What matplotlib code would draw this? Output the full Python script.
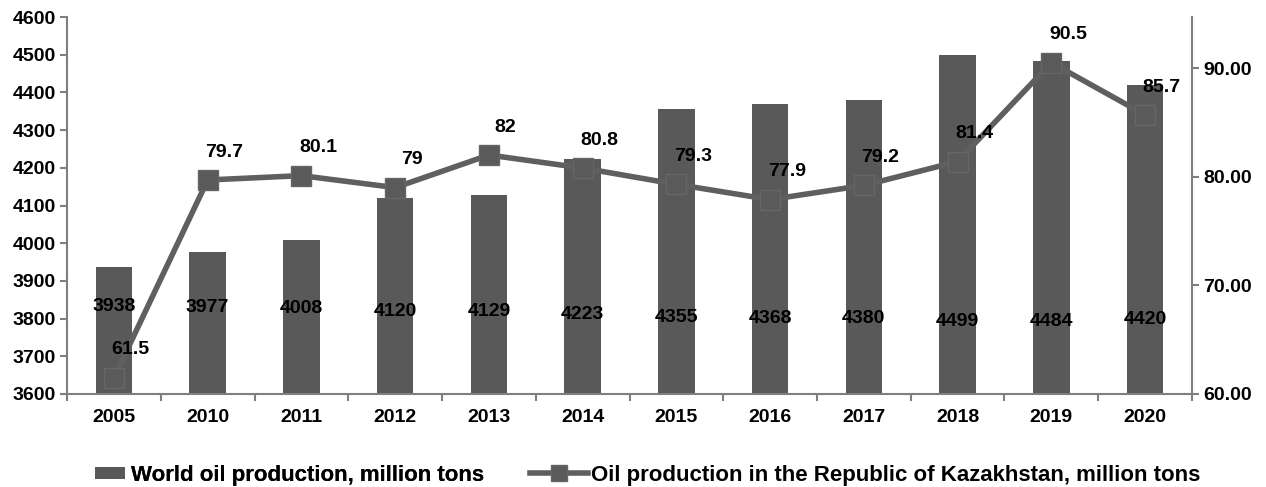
import matplotlib
matplotlib.use("Agg")
import matplotlib.pyplot as plt
import numpy as np

years = ["2005", "2010", "2011", "2012", "2013", "2014", "2015", "2016", "2017", "2018", "2019", "2020"]
world = [3938, 3977, 4008, 4120, 4129, 4223, 4355, 4368, 4380, 4499, 4484, 4420]
kaz = [61.5, 79.7, 80.1, 79, 82, 80.8, 79.3, 77.9, 79.2, 81.4, 90.5, 85.7]
left_ticks = list(range(3600, 4601, 100))
right_ticks = [60, 70, 80, 90]

plt.rcParams['font.family'] = ['Liberation Sans', 'DejaVu Sans']
bar_c = "#595959"
line_c = "#5f5f5f"
spine_c = "#7f7f7f"
fs = 14

fig = plt.figure(figsize=(12.66, 4.87), dpi=100)
ax = fig.add_axes([0.053, 0.191, 0.8885, 0.774])
x = np.arange(len(years))
bars = ax.bar(x, world, width=0.39, color=bar_c, zorder=2,
              label="World oil production, million tons")
ax.set_ylim(3600, 4600)
ax.set_xlim(-0.5, len(years) - 0.5)
ax.set_yticks(left_ticks)
ax.set_yticklabels([str(t) for t in left_ticks], fontsize=fs, fontweight='bold')
ax.set_xticks(x)
ax.set_xticklabels(years, fontsize=fs, fontweight='bold')
ax.tick_params(axis='x', length=0, pad=11)
ax.set_xticks(np.arange(-0.5, len(years)), minor=True)
ax.tick_params(axis='x', which='minor', length=5, color=spine_c, width=1.5)
ax.tick_params(axis='y', length=5, color=spine_c, width=1.5, pad=3)
for s in ['top', 'right']:
    ax.spines[s].set_visible(False)
for s in ['left', 'bottom']:
    ax.spines[s].set_color(spine_c)
    ax.spines[s].set_linewidth(1.5)

for xi, v in zip(x, world):
    ly = 3831 - (v - 3938) * 0.07
    ax.text(xi, ly, str(v), ha='center', va='center', fontsize=fs,
            fontweight='bold', color='black', zorder=5)

ax2 = ax.twinx()
ax2.set_ylim(60, 94.7)
ax2.set_yticks(right_ticks)
ax2.set_yticklabels([f"{t:.2f}" for t in right_ticks], fontsize=fs, fontweight='bold')
ax2.tick_params(axis='y', length=5, color=spine_c, width=1.5, pad=3)
for s in ['top', 'left', 'bottom']:
    ax2.spines[s].set_visible(False)
ax2.spines['right'].set_color(spine_c)
ax2.spines['right'].set_linewidth(1.5)
ln, = ax2.plot(x, kaz, color=line_c, linewidth=4, marker='s', markersize=15,
               markerfacecolor="#5a5a5a", markeredgecolor="#666666", markeredgewidth=1,
               zorder=3, label="Oil production in the Republic of Kazakhstan, million tons")
for xi, v in zip(x, kaz):
    ax2.annotate(f"{v:g}", (xi, v), xytext=(12, 20), textcoords='offset points',
                 ha='center', va='center', fontsize=fs, fontweight='bold', zorder=6)

prop = {'family': ['Liberation Sans'], 'weight': 'bold', 'size': 16}
leg_y = 1 - 475 / 487
leg1 = fig.legend([bars], [bars.get_label()], loc='center left',
                  bbox_to_anchor=(95 / 1266, leg_y), frameon=False, prop=prop,
                  borderpad=0, borderaxespad=0, handlelength=1.35, handleheight=0.45,
                  handletextpad=0.25)
leg2 = fig.legend([ln], [ln.get_label()], loc='center left',
                  bbox_to_anchor=(530 / 1266, leg_y), frameon=False, prop=prop,
                  borderpad=0, borderaxespad=0, handlelength=2.6, handletextpad=0.15)
fig.add_artist(leg1)
leg2.get_lines()[0].set_markersize(12)

fig.savefig("out.png", dpi=100)
